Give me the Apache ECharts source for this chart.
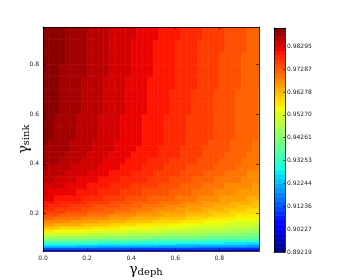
<!DOCTYPE html>
<html><head><meta charset="utf-8">
<script src="https://cdn.jsdelivr.net/npm/echarts@6/dist/echarts.min.js"></script>
<style>html,body{margin:0;padding:0;background:#fff}#c{width:350px;height:280px}</style>
</head><body><div id="c"></div>
<script>
// ---- data ----
const xEdges = [0,0.025,0.05,0.075,0.1,0.125,0.15,0.175,0.2,0.225,0.25,0.275,0.3,0.325,0.35,0.375,0.4,0.425,0.45,0.475,0.5,0.525,0.55,0.575,0.6,0.625,0.65,0.675,0.7,0.725,0.75,0.775,0.8,0.825,0.85,0.875,0.9,0.925,0.95,0.975,1.0];
const yEdges = [0.05,0.05625,0.0625,0.06875,0.075,0.08125,0.0875,0.09375,0.1,0.1125,0.125,0.1375,0.15,0.1625,0.175,0.1875,0.2,0.2125,0.225,0.2375,0.25,0.275,0.3,0.325,0.35,0.375,0.4,0.425,0.45,0.475,0.5,0.55,0.6,0.65,0.7,0.75,0.8,0.85,0.9,0.95];
const zRows = [
[0.9019,0.9018,0.9016,0.9015,0.9013,0.9012,0.9010,0.9009,0.9007,0.9006,0.9004,0.9003,0.9001,0.9000,0.8998,0.8997,0.8995,0.8994,0.8992,0.8991,0.8989,0.8988,0.8986,0.8985,0.8983,0.8982,0.8980,0.8979,0.8977,0.8976,0.8974,0.8973,0.8971,0.8970,0.8968,0.8967,0.8965,0.8964,0.8962,0.8961],
[0.9121,0.9120,0.9119,0.9118,0.9117,0.9116,0.9115,0.9114,0.9112,0.9111,0.9110,0.9109,0.9108,0.9107,0.9106,0.9105,0.9103,0.9102,0.9101,0.9100,0.9099,0.9098,0.9097,0.9096,0.9094,0.9093,0.9092,0.9091,0.9090,0.9089,0.9088,0.9087,0.9085,0.9084,0.9083,0.9082,0.9081,0.9080,0.9079,0.9078],
[0.9195,0.9194,0.9193,0.9192,0.9191,0.9190,0.9188,0.9187,0.9186,0.9185,0.9184,0.9182,0.9181,0.9180,0.9179,0.9178,0.9177,0.9175,0.9174,0.9173,0.9172,0.9171,0.9170,0.9168,0.9167,0.9166,0.9165,0.9164,0.9163,0.9161,0.9160,0.9159,0.9158,0.9157,0.9155,0.9154,0.9153,0.9152,0.9151,0.9150],
[0.9252,0.9251,0.9250,0.9248,0.9247,0.9246,0.9244,0.9243,0.9242,0.9240,0.9239,0.9238,0.9236,0.9235,0.9234,0.9232,0.9231,0.9230,0.9228,0.9227,0.9226,0.9224,0.9223,0.9222,0.9221,0.9219,0.9218,0.9217,0.9215,0.9214,0.9213,0.9211,0.9210,0.9209,0.9207,0.9206,0.9205,0.9203,0.9202,0.9201],
[0.9299,0.9298,0.9296,0.9295,0.9293,0.9292,0.9290,0.9289,0.9287,0.9286,0.9284,0.9283,0.9281,0.9280,0.9278,0.9277,0.9275,0.9274,0.9272,0.9271,0.9269,0.9268,0.9266,0.9265,0.9263,0.9262,0.9260,0.9259,0.9257,0.9256,0.9254,0.9253,0.9251,0.9250,0.9248,0.9247,0.9245,0.9244,0.9242,0.9241],
[0.9341,0.9339,0.9338,0.9336,0.9334,0.9332,0.9331,0.9329,0.9327,0.9326,0.9324,0.9322,0.9320,0.9319,0.9317,0.9315,0.9314,0.9312,0.9310,0.9308,0.9307,0.9305,0.9303,0.9301,0.9300,0.9298,0.9296,0.9295,0.9293,0.9291,0.9289,0.9288,0.9286,0.9284,0.9282,0.9281,0.9279,0.9277,0.9276,0.9274],
[0.9379,0.9377,0.9375,0.9373,0.9372,0.9370,0.9368,0.9366,0.9364,0.9362,0.9360,0.9358,0.9357,0.9355,0.9353,0.9351,0.9349,0.9347,0.9345,0.9343,0.9342,0.9340,0.9338,0.9336,0.9334,0.9332,0.9330,0.9328,0.9327,0.9325,0.9323,0.9321,0.9319,0.9317,0.9315,0.9313,0.9312,0.9310,0.9308,0.9306],
[0.9421,0.9419,0.9417,0.9415,0.9413,0.9411,0.9409,0.9407,0.9405,0.9403,0.9402,0.9400,0.9398,0.9396,0.9394,0.9392,0.9390,0.9388,0.9386,0.9384,0.9382,0.9380,0.9378,0.9376,0.9374,0.9372,0.9370,0.9368,0.9366,0.9364,0.9363,0.9361,0.9359,0.9357,0.9355,0.9353,0.9351,0.9349,0.9347,0.9345],
[0.9468,0.9466,0.9464,0.9462,0.9459,0.9457,0.9455,0.9453,0.9451,0.9449,0.9447,0.9445,0.9442,0.9440,0.9438,0.9436,0.9434,0.9432,0.9430,0.9428,0.9425,0.9423,0.9421,0.9419,0.9417,0.9415,0.9413,0.9411,0.9408,0.9406,0.9404,0.9402,0.9400,0.9398,0.9396,0.9394,0.9391,0.9389,0.9387,0.9385],
[0.9526,0.9523,0.9520,0.9518,0.9515,0.9512,0.9509,0.9507,0.9504,0.9501,0.9499,0.9496,0.9493,0.9491,0.9488,0.9485,0.9482,0.9480,0.9477,0.9474,0.9472,0.9469,0.9466,0.9464,0.9461,0.9458,0.9455,0.9453,0.9450,0.9447,0.9445,0.9442,0.9439,0.9437,0.9434,0.9431,0.9428,0.9426,0.9423,0.9420],
[0.9573,0.9570,0.9567,0.9564,0.9561,0.9558,0.9554,0.9551,0.9548,0.9545,0.9542,0.9538,0.9535,0.9532,0.9529,0.9526,0.9523,0.9519,0.9516,0.9513,0.9510,0.9507,0.9504,0.9500,0.9497,0.9494,0.9491,0.9488,0.9485,0.9481,0.9478,0.9475,0.9472,0.9469,0.9465,0.9462,0.9459,0.9456,0.9453,0.9450],
[0.9615,0.9612,0.9608,0.9605,0.9601,0.9598,0.9595,0.9591,0.9588,0.9584,0.9581,0.9577,0.9574,0.9570,0.9567,0.9564,0.9560,0.9557,0.9553,0.9550,0.9546,0.9543,0.9539,0.9536,0.9532,0.9529,0.9526,0.9522,0.9519,0.9515,0.9512,0.9508,0.9505,0.9501,0.9498,0.9495,0.9491,0.9488,0.9484,0.9481],
[0.9653,0.9649,0.9645,0.9641,0.9638,0.9634,0.9630,0.9626,0.9622,0.9618,0.9614,0.9610,0.9607,0.9603,0.9599,0.9595,0.9591,0.9587,0.9583,0.9579,0.9576,0.9572,0.9568,0.9564,0.9560,0.9556,0.9552,0.9548,0.9545,0.9541,0.9537,0.9533,0.9529,0.9525,0.9521,0.9517,0.9514,0.9510,0.9506,0.9502],
[0.9687,0.9683,0.9679,0.9675,0.9670,0.9666,0.9662,0.9658,0.9654,0.9650,0.9646,0.9642,0.9637,0.9633,0.9629,0.9625,0.9621,0.9617,0.9613,0.9609,0.9604,0.9600,0.9596,0.9592,0.9588,0.9584,0.9580,0.9576,0.9571,0.9567,0.9563,0.9559,0.9555,0.9551,0.9547,0.9543,0.9538,0.9534,0.9530,0.9526],
[0.9716,0.9712,0.9707,0.9703,0.9699,0.9694,0.9690,0.9686,0.9681,0.9677,0.9673,0.9669,0.9664,0.9660,0.9656,0.9651,0.9647,0.9643,0.9638,0.9634,0.9630,0.9626,0.9621,0.9617,0.9613,0.9608,0.9604,0.9600,0.9595,0.9591,0.9587,0.9583,0.9578,0.9574,0.9570,0.9565,0.9561,0.9557,0.9552,0.9548],
[0.9742,0.9737,0.9733,0.9728,0.9724,0.9720,0.9715,0.9711,0.9706,0.9702,0.9697,0.9693,0.9688,0.9684,0.9679,0.9675,0.9671,0.9666,0.9662,0.9657,0.9653,0.9648,0.9644,0.9639,0.9635,0.9631,0.9626,0.9622,0.9617,0.9613,0.9608,0.9604,0.9599,0.9595,0.9590,0.9586,0.9582,0.9577,0.9573,0.9568],
[0.9764,0.9759,0.9755,0.9750,0.9745,0.9741,0.9736,0.9732,0.9727,0.9722,0.9718,0.9713,0.9709,0.9704,0.9699,0.9695,0.9690,0.9686,0.9681,0.9676,0.9672,0.9667,0.9663,0.9658,0.9653,0.9649,0.9644,0.9640,0.9635,0.9630,0.9626,0.9621,0.9617,0.9612,0.9607,0.9603,0.9598,0.9594,0.9589,0.9584],
[0.9779,0.9774,0.9769,0.9765,0.9760,0.9755,0.9751,0.9746,0.9741,0.9737,0.9732,0.9728,0.9723,0.9718,0.9714,0.9709,0.9704,0.9700,0.9695,0.9690,0.9686,0.9681,0.9676,0.9672,0.9667,0.9662,0.9658,0.9653,0.9648,0.9644,0.9639,0.9635,0.9630,0.9625,0.9621,0.9616,0.9611,0.9607,0.9602,0.9597],
[0.9791,0.9786,0.9781,0.9777,0.9772,0.9767,0.9762,0.9758,0.9753,0.9748,0.9744,0.9739,0.9734,0.9730,0.9725,0.9720,0.9715,0.9711,0.9706,0.9701,0.9697,0.9692,0.9687,0.9683,0.9678,0.9673,0.9668,0.9664,0.9659,0.9654,0.9650,0.9645,0.9640,0.9636,0.9631,0.9626,0.9621,0.9617,0.9612,0.9607],
[0.9804,0.9799,0.9794,0.9789,0.9785,0.9780,0.9775,0.9771,0.9766,0.9761,0.9756,0.9752,0.9747,0.9742,0.9737,0.9733,0.9728,0.9723,0.9719,0.9714,0.9709,0.9704,0.9700,0.9695,0.9690,0.9686,0.9681,0.9676,0.9671,0.9667,0.9662,0.9657,0.9652,0.9648,0.9643,0.9638,0.9634,0.9629,0.9624,0.9619],
[0.9819,0.9814,0.9809,0.9804,0.9800,0.9795,0.9790,0.9785,0.9781,0.9776,0.9771,0.9766,0.9762,0.9757,0.9752,0.9747,0.9743,0.9738,0.9733,0.9728,0.9724,0.9719,0.9714,0.9709,0.9705,0.9700,0.9695,0.9690,0.9686,0.9681,0.9676,0.9671,0.9667,0.9662,0.9657,0.9652,0.9648,0.9643,0.9638,0.9633],
[0.9834,0.9829,0.9824,0.9819,0.9815,0.9810,0.9805,0.9800,0.9796,0.9791,0.9786,0.9781,0.9777,0.9772,0.9767,0.9762,0.9758,0.9753,0.9748,0.9743,0.9739,0.9734,0.9729,0.9724,0.9720,0.9715,0.9710,0.9705,0.9701,0.9696,0.9691,0.9686,0.9682,0.9677,0.9672,0.9667,0.9663,0.9658,0.9653,0.9648],
[0.9846,0.9841,0.9836,0.9831,0.9827,0.9822,0.9817,0.9812,0.9807,0.9803,0.9798,0.9793,0.9788,0.9784,0.9779,0.9774,0.9769,0.9764,0.9760,0.9755,0.9750,0.9745,0.9741,0.9736,0.9731,0.9726,0.9721,0.9717,0.9712,0.9707,0.9702,0.9698,0.9693,0.9688,0.9683,0.9678,0.9674,0.9669,0.9664,0.9659],
[0.9857,0.9852,0.9847,0.9842,0.9837,0.9833,0.9828,0.9823,0.9818,0.9813,0.9809,0.9804,0.9799,0.9794,0.9789,0.9785,0.9780,0.9775,0.9770,0.9765,0.9761,0.9756,0.9751,0.9746,0.9741,0.9737,0.9732,0.9727,0.9722,0.9717,0.9713,0.9708,0.9703,0.9698,0.9693,0.9689,0.9684,0.9679,0.9674,0.9669],
[0.9866,0.9861,0.9856,0.9851,0.9846,0.9841,0.9837,0.9832,0.9827,0.9822,0.9817,0.9813,0.9808,0.9803,0.9798,0.9793,0.9788,0.9784,0.9779,0.9774,0.9769,0.9764,0.9759,0.9755,0.9750,0.9745,0.9740,0.9735,0.9730,0.9726,0.9721,0.9716,0.9711,0.9706,0.9702,0.9697,0.9692,0.9687,0.9682,0.9677],
[0.9874,0.9869,0.9864,0.9859,0.9854,0.9849,0.9845,0.9840,0.9835,0.9830,0.9825,0.9821,0.9816,0.9811,0.9806,0.9801,0.9796,0.9792,0.9787,0.9782,0.9777,0.9772,0.9767,0.9763,0.9758,0.9753,0.9748,0.9743,0.9738,0.9734,0.9729,0.9724,0.9719,0.9714,0.9710,0.9705,0.9700,0.9695,0.9690,0.9685],
[0.9881,0.9876,0.9871,0.9866,0.9861,0.9856,0.9851,0.9847,0.9842,0.9837,0.9832,0.9827,0.9822,0.9818,0.9813,0.9808,0.9803,0.9798,0.9793,0.9788,0.9784,0.9779,0.9774,0.9769,0.9764,0.9759,0.9754,0.9750,0.9745,0.9740,0.9735,0.9730,0.9725,0.9721,0.9716,0.9711,0.9706,0.9701,0.9696,0.9691],
[0.9887,0.9882,0.9877,0.9872,0.9867,0.9862,0.9857,0.9853,0.9848,0.9843,0.9838,0.9833,0.9828,0.9824,0.9819,0.9814,0.9809,0.9804,0.9799,0.9794,0.9790,0.9785,0.9780,0.9775,0.9770,0.9765,0.9760,0.9756,0.9751,0.9746,0.9741,0.9736,0.9731,0.9727,0.9722,0.9717,0.9712,0.9707,0.9702,0.9697],
[0.9890,0.9885,0.9880,0.9875,0.9870,0.9865,0.9860,0.9855,0.9851,0.9846,0.9841,0.9836,0.9831,0.9826,0.9821,0.9816,0.9812,0.9807,0.9802,0.9797,0.9792,0.9787,0.9782,0.9777,0.9773,0.9768,0.9763,0.9758,0.9753,0.9748,0.9743,0.9738,0.9734,0.9729,0.9724,0.9719,0.9714,0.9709,0.9704,0.9699],
[0.9893,0.9888,0.9883,0.9878,0.9873,0.9868,0.9863,0.9858,0.9854,0.9849,0.9844,0.9839,0.9834,0.9829,0.9824,0.9819,0.9815,0.9810,0.9805,0.9800,0.9795,0.9790,0.9785,0.9780,0.9776,0.9771,0.9766,0.9761,0.9756,0.9751,0.9746,0.9741,0.9737,0.9732,0.9727,0.9722,0.9717,0.9712,0.9707,0.9702],
[0.9896,0.9891,0.9886,0.9881,0.9876,0.9871,0.9866,0.9861,0.9856,0.9851,0.9847,0.9842,0.9837,0.9832,0.9827,0.9822,0.9817,0.9812,0.9807,0.9802,0.9798,0.9793,0.9788,0.9783,0.9778,0.9773,0.9768,0.9763,0.9758,0.9753,0.9749,0.9744,0.9739,0.9734,0.9729,0.9724,0.9719,0.9714,0.9709,0.9704],
[0.9898,0.9893,0.9888,0.9883,0.9878,0.9873,0.9868,0.9863,0.9858,0.9853,0.9848,0.9843,0.9838,0.9834,0.9829,0.9824,0.9819,0.9814,0.9809,0.9804,0.9799,0.9794,0.9789,0.9784,0.9779,0.9774,0.9769,0.9765,0.9760,0.9755,0.9750,0.9745,0.9740,0.9735,0.9730,0.9725,0.9720,0.9715,0.9710,0.9705],
[0.9901,0.9896,0.9891,0.9886,0.9881,0.9876,0.9871,0.9866,0.9861,0.9856,0.9851,0.9846,0.9841,0.9836,0.9831,0.9826,0.9821,0.9816,0.9811,0.9806,0.9802,0.9797,0.9792,0.9787,0.9782,0.9777,0.9772,0.9767,0.9762,0.9757,0.9752,0.9747,0.9742,0.9737,0.9732,0.9727,0.9722,0.9717,0.9712,0.9707],
[0.9902,0.9897,0.9892,0.9887,0.9882,0.9877,0.9872,0.9867,0.9862,0.9857,0.9852,0.9847,0.9842,0.9837,0.9832,0.9827,0.9822,0.9817,0.9812,0.9807,0.9803,0.9798,0.9793,0.9788,0.9783,0.9778,0.9773,0.9768,0.9763,0.9758,0.9753,0.9748,0.9743,0.9738,0.9733,0.9728,0.9723,0.9718,0.9713,0.9708],
[0.9904,0.9899,0.9894,0.9889,0.9884,0.9879,0.9874,0.9869,0.9864,0.9859,0.9854,0.9849,0.9844,0.9839,0.9834,0.9829,0.9824,0.9819,0.9814,0.9809,0.9805,0.9800,0.9795,0.9790,0.9785,0.9780,0.9775,0.9770,0.9765,0.9760,0.9755,0.9750,0.9745,0.9740,0.9735,0.9730,0.9725,0.9720,0.9715,0.9710],
[0.9905,0.9900,0.9895,0.9890,0.9885,0.9880,0.9875,0.9870,0.9865,0.9860,0.9855,0.9850,0.9845,0.9840,0.9835,0.9830,0.9825,0.9820,0.9815,0.9810,0.9806,0.9801,0.9796,0.9791,0.9786,0.9781,0.9776,0.9771,0.9766,0.9761,0.9756,0.9751,0.9746,0.9741,0.9736,0.9731,0.9726,0.9721,0.9716,0.9711],
[0.9906,0.9901,0.9896,0.9891,0.9886,0.9881,0.9876,0.9871,0.9866,0.9861,0.9856,0.9851,0.9846,0.9842,0.9837,0.9832,0.9827,0.9822,0.9817,0.9812,0.9807,0.9802,0.9797,0.9792,0.9787,0.9782,0.9777,0.9773,0.9768,0.9763,0.9758,0.9753,0.9748,0.9743,0.9738,0.9733,0.9728,0.9723,0.9718,0.9713],
[0.9907,0.9902,0.9897,0.9892,0.9887,0.9882,0.9877,0.9872,0.9867,0.9862,0.9858,0.9853,0.9848,0.9843,0.9838,0.9833,0.9828,0.9823,0.9818,0.9813,0.9809,0.9804,0.9799,0.9794,0.9789,0.9784,0.9779,0.9774,0.9769,0.9764,0.9760,0.9755,0.9750,0.9745,0.9740,0.9735,0.9730,0.9725,0.9720,0.9715],
[0.9908,0.9903,0.9898,0.9893,0.9888,0.9883,0.9878,0.9873,0.9869,0.9864,0.9859,0.9854,0.9849,0.9844,0.9839,0.9834,0.9830,0.9825,0.9820,0.9815,0.9810,0.9805,0.9800,0.9795,0.9791,0.9786,0.9781,0.9776,0.9771,0.9766,0.9761,0.9756,0.9752,0.9747,0.9742,0.9737,0.9732,0.9727,0.9722,0.9717]
];
const xTicks = [0.0,0.2,0.4,0.6,0.8];
const yTicks = [0.2,0.4,0.6,0.8];
const cbTicks = [0.89219,0.90227,0.91236,0.92244,0.93253,0.94261,0.95270,0.96278,0.97287,0.98295];
const cbMin = 0.89219, cbMax = 0.99102, nLevels = 49;

// ---- jet colormap (matplotlib) ----
const JET = {
  r:[[0,0],[0.35,0],[0.66,1],[0.89,1],[1,0.5]],
  g:[[0,0],[0.125,0],[0.375,1],[0.64,1],[0.91,0],[1,0]],
  b:[[0,0.5],[0.11,1],[0.34,1],[0.65,0],[1,0]]
};
function seg(pts,t){for(let i=1;i<pts.length;i++){if(t<=pts[i][0]){const a=pts[i-1],b=pts[i];return a[1]+(b[1]-a[1])*(t-a[0])/(b[0]-a[0]);}}return pts[pts.length-1][1];}
function jet(t){const c=[seg(JET.r,t),seg(JET.g,t),seg(JET.b,t)].map(v=>Math.round(v*255));return 'rgb('+c.join(',')+')';}

const step=(cbMax-cbMin)/nLevels;
const levels=[];for(let k=0;k<=nLevels;k++)levels.push(cbMin+k*step);
const pieces=[];for(let k=0;k<nLevels;k++){pieces.push({gte:k===0?0:levels[k],lt:k===nLevels-1?2:levels[k+1],color:jet((k+0.5)/nLevels)});}

const cells=[];
for(let i=0;i<zRows.length;i++)for(let j=0;j<zRows[i].length;j++)cells.push([xEdges[j],xEdges[j+1],yEdges[i],yEdges[i+1],zRows[i][j]]);
const bands=[];for(let k=0;k<nLevels;k++)bands.push([0,1,levels[k],levels[k+1],(levels[k]+levels[k+1])/2]);

function renderCell(params,api){
  const a=api.coord([api.value(0),api.value(3)]);
  const b=api.coord([api.value(1),api.value(2)]);
  const c=api.visual('color');
  return {type:'rect',shape:{x:a[0],y:a[1],width:b[0]-a[0],height:b[1]-a[1]},style:{fill:c,stroke:c,lineWidth:0.6},silent:true};
}

const lineS={show:true,onZero:false,lineStyle:{color:'#000',width:0.8}};
const tickF={fontSize:6,color:'#222',fontFamily:'DejaVu Sans'};
const nameRich={g:{fontFamily:'DejaVu Serif',fontSize:14,verticalAlign:'bottom',color:'#000'},s:{fontFamily:'DejaVu Serif',fontSize:10,verticalAlign:'bottom',padding:[6,0,0,0],color:'#000'}};
const chart=echarts.init(document.getElementById('c'),null,{renderer:'canvas'});
chart.setOption({
  animation:false,
  backgroundColor:'#fff',
  grid:[{left:43,top:27,width:216,height:224,outerBoundsMode:'none',containLabel:false},
        {left:274,top:28,width:11,height:224,outerBoundsMode:'none',containLabel:false}],
  visualMap:{type:'piecewise',show:false,dimension:4,seriesIndex:[0,1],pieces:pieces},
  xAxis:[
    {gridIndex:0,type:'value',min:0,max:0.98,position:'bottom',z:10,axisLine:lineS,splitLine:{show:false},
     axisTick:{show:true,inside:true,length:3,customValues:xTicks,lineStyle:{color:'#000',width:0.6}},
     axisLabel:Object.assign({customValues:xTicks,formatter:v=>v.toFixed(1),margin:4},tickF),
     name:'{g|γ}{s|deph}',nameLocation:'middle',nameGap:10,nameMoveOverlap:false,nameTextStyle:{rich:nameRich,padding:[0,10,0,0]}},
    {gridIndex:0,type:'value',min:0,max:0.98,position:'top',z:10,axisLine:lineS,splitLine:{show:false},
     axisTick:{show:true,inside:true,length:3,customValues:xTicks,lineStyle:{color:'#000',width:0.6}},axisLabel:{show:false}},
    {gridIndex:1,type:'value',min:0,max:1,position:'bottom',z:10,axisLine:lineS,axisTick:{show:false},axisLabel:{show:false},splitLine:{show:false}},
    {gridIndex:1,type:'value',min:0,max:1,position:'top',z:10,axisLine:lineS,axisTick:{show:false},axisLabel:{show:false},splitLine:{show:false}}
  ],
  yAxis:[
    {gridIndex:0,type:'value',min:0.05,max:0.95,position:'left',z:10,axisLine:lineS,splitLine:{show:false},
     axisTick:{show:true,inside:true,length:3,customValues:yTicks,lineStyle:{color:'#000',width:0.6}},
     axisLabel:Object.assign({customValues:yTicks,formatter:v=>v.toFixed(1),margin:4},tickF),
     name:'{g|γ}{s|sink}',nameLocation:'middle',nameRotate:90,nameGap:12,nameMoveOverlap:false,nameTextStyle:{rich:nameRich}},
    {gridIndex:0,type:'value',min:0.05,max:0.95,position:'right',z:10,axisLine:lineS,splitLine:{show:false},
     axisTick:{show:true,inside:true,length:3,customValues:yTicks,lineStyle:{color:'#000',width:0.6}},axisLabel:{show:false}},
    {gridIndex:1,type:'value',min:cbMin,max:cbMax,position:'right',z:10,axisLine:lineS,splitLine:{show:false},
     axisTick:{show:true,inside:true,length:2,customValues:cbTicks,lineStyle:{color:'#000',width:0.6}},
     axisLabel:Object.assign({customValues:cbTicks,formatter:v=>v.toFixed(5),margin:2},tickF)},
    {gridIndex:1,type:'value',min:cbMin,max:cbMax,position:'left',z:10,axisLine:lineS,axisTick:{show:false},axisLabel:{show:false},splitLine:{show:false}}
  ],
  series:[
    {type:'custom',xAxisIndex:0,yAxisIndex:0,clip:true,renderItem:renderCell,encode:{x:[0,1],y:[2,3]},data:cells},
    {type:'custom',xAxisIndex:2,yAxisIndex:2,clip:true,renderItem:renderCell,encode:{x:[0,1],y:[2,3]},data:bands}
  ]
});
</script></body></html>
